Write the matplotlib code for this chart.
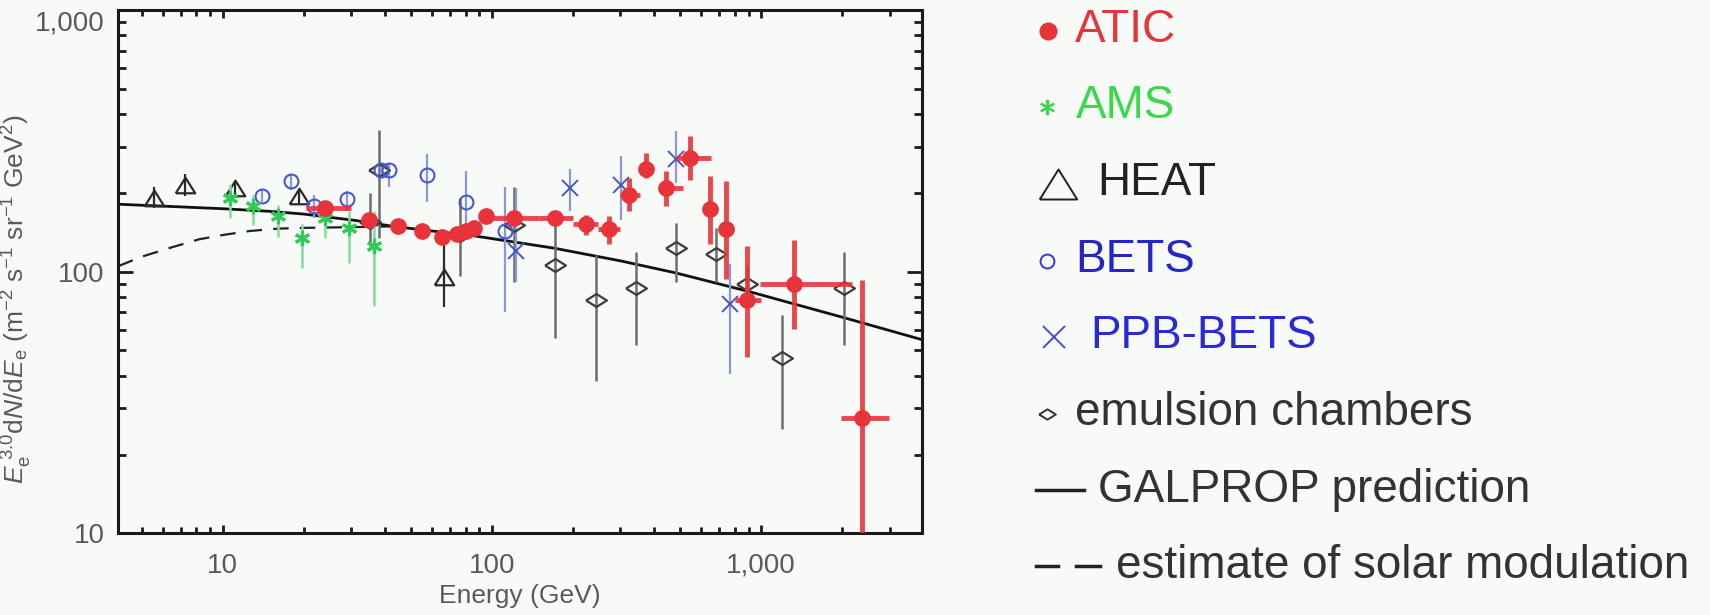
import numpy as np
import matplotlib
matplotlib.use("Agg")
import matplotlib.pyplot as plt
from matplotlib.lines import Line2D
from matplotlib.ticker import FixedLocator, FixedFormatter, LogLocator, NullFormatter

plt.rcParams['font.family'] = ['Liberation Sans', 'DejaVu Sans']
plt.rcParams['mathtext.fontset'] = 'custom'
plt.rcParams['mathtext.rm'] = 'Liberation Sans'
plt.rcParams['mathtext.it'] = 'Liberation Sans:italic'

# ---------------- data (energy in GeV, flux E^3 dN/dE) ----------------
atic_e = [24, 35, 44.7, 55, 65.5, 74, 80, 86, 95, 121, 171, 224, 273, 324, 373, 445, 544, 646, 743, 889, 1325, 2376]
atic_v = [175, 157, 149, 143, 136, 139.5, 143, 147, 163, 161, 160, 152, 146, 196, 246, 209, 273, 173, 146, 78, 90, 27.7]
atic_lo = [170, 152, 145, 139, 132, 135, 139, 143, 158, 156, 155, 138, 128, 170, 228, 178, 225, 127, 94, 47, 60.5, 5]
atic_hi = [180, 162, 153, 147, 140, 144, 147, 151, 168, 166, 165, 165, 163, 228, 285, 242, 330, 232, 222, 125, 132, 93]
atic_elo = [20.5, 35, 44.7, 55, 65.5, 74, 80, 86, 95, 95, 150, 200, 247, 300, 373, 430, 482, 646, 743, 800, 990, 1980]
atic_ehi = [30, 35, 44.7, 55, 65.5, 74, 80, 86, 95, 150, 200, 247, 300, 355, 373, 512, 650, 646, 743, 1000, 2170, 2980]

ams_e = [10.65, 13.0, 16.0, 19.8, 24.0, 29.6, 36.4]
ams_v = [191, 178, 163, 134, 160, 147, 125]
ams_lo = [160, 151, 136, 103, 134, 108, 74]
ams_hi = [216, 197, 180, 152, 180, 170, 170]

heat_e = [5.56, 7.27, 11.15, 19.2, 66.4]
heat_v = [191, 215, 208, 194, 95.7]
heat_lo = [175, 194, 192, 182, 73]
heat_hi = [211, 236, 222, 206, 126]

bets_e = [14.0, 17.9, 21.9, 29.1, 38.7, 41.4, 57.5, 80.5, 111.7]
bets_v = [195, 222, 178, 189, 244, 244, 235, 184, 142.6]
bets_lo = [185, 206, 160, 170, 232, 211, 185, 134, 70]
bets_hi = [205, 236, 197, 203, 256, 261, 281, 242, 211]

ppb_e = [123, 195, 302, 485, 767]
ppb_v = [120, 208, 215, 269, 75.5]
ppb_lo = [91.5, 171, 158, 219, 40.6]
ppb_hi = [209, 246, 276, 345, 107]

emul_e = [35.4, 38.0, 76, 121, 171, 244, 343, 485, 679, 889, 1200, 2032]
emul_v = [155, 244, 138, 151, 106, 77.8, 86.3, 123, 116.6, 89.4, 46.8, 86.3]
emul_lo = [125, 134, 96, 91.5, 56, 38.3, 52.3, 91.5, 91.5, 75, 25, 52.3]
emul_hi = [200, 348, 191, 211, 165, 116, 119, 153, 147, 105, 68, 119]

galprop_e = [4.1, 6, 10, 15, 20, 31, 43, 60, 86, 120, 170, 300, 480, 900, 2000, 3950]
galprop_v = [181, 178, 174, 170, 166, 157, 149, 143, 137, 130, 123, 110, 99, 84, 67, 55]

solar_e = [4.1, 5.0, 6.5, 8.2, 10, 12.6, 16, 20, 31, 43]
solar_v = [105, 114, 124, 133, 138, 143, 146, 147, 148, 149]

y_ticks = [10, 100, 1000]
y_ticklabels = ['10', '100', '1,000']
x_ticks = [10, 100, 1000]
x_ticklabels = ['10', '100', '1,000']

legend_labels = ['ATIC', 'AMS', 'HEAT', 'BETS', 'PPB-BETS', 'emulsion chambers',
                 'GALPROP prediction', 'estimate of solar modulation']

# ---------------- styling ----------------
BG = '#f7faf6'
RED = '#e8333a'
GREEN = '#2fcc58'
GREEN_L = '#86dca0'
DARK = '#2a2a2a'
BLUE = '#4858c8'
BLUE_L = '#8e98d8'
GRAY = '#3c3c3c'
GRAY_L = '#6e6e6e'
TXT = '#5a5a5a'

W, H = 1710, 615
fig = plt.figure(figsize=(W / 100, H / 100), dpi=100, facecolor=BG)
ax = fig.add_axes([118.3 / W, 1 - 533.3 / H, (921.7 - 118.3) / W, (533.3 - 10) / H])
ax.set_facecolor(BG)
ax.set_xscale('log')
ax.set_yscale('log')
ax.set_xlim(4.1, 3950)
ax.set_ylim(10, 1000)


def yerr(v, lo, hi):
    v, lo, hi = map(np.asarray, (v, lo, hi))
    return np.vstack([v - lo, hi - v])


diamond = [(-1, 0), (0, 0.62), (1, 0), (0, -0.62), (-1, 0)]
tri = [(-1, -0.8), (0, 0.8), (1, -0.8), (-1, -0.8)]

# model curves
ax.plot(galprop_e, galprop_v, color='#111111', lw=2.0, zorder=2)
ax.plot(solar_e, solar_v, color='#222222', lw=1.6, dashes=(7, 5), zorder=2)

# emulsion chambers
ax.errorbar(emul_e, emul_v, yerr=yerr(emul_v, emul_lo, emul_hi), fmt='none',
            ecolor=GRAY_L, elinewidth=1.8, zorder=3)
ax.plot(emul_e, emul_v, ls='none', marker=diamond, ms=15, mfc='none', mec=GRAY, mew=1.6, zorder=4)

# HEAT
ax.errorbar(heat_e, heat_v, yerr=yerr(heat_v, heat_lo, heat_hi), fmt='none',
            ecolor=DARK, elinewidth=1.6, zorder=3)
ax.plot(heat_e, heat_v, ls='none', marker=tri, ms=14, mfc='none', mec=DARK, mew=1.6, zorder=4)

# BETS
ax.errorbar(bets_e, bets_v, yerr=yerr(bets_v, bets_lo, bets_hi), fmt='none',
            ecolor=BLUE_L, elinewidth=1.6, zorder=3)
ax.plot(bets_e, bets_v, ls='none', marker='o', ms=10, mfc='none', mec=BLUE, mew=1.5, zorder=4)

# PPB-BETS
ax.errorbar(ppb_e, ppb_v, yerr=yerr(ppb_v, ppb_lo, ppb_hi), fmt='none',
            ecolor=BLUE_L, elinewidth=1.6, zorder=3)
ax.plot(ppb_e, ppb_v, ls='none', marker='x', ms=11, mec=BLUE, mew=1.4, zorder=4)

# AMS
ax.errorbar(ams_e, ams_v, yerr=yerr(ams_v, ams_lo, ams_hi), fmt='none',
            ecolor=GREEN_L, elinewidth=1.8, zorder=5)
ax.plot(ams_e, ams_v, ls='none', marker=(6, 2, 0), ms=11, mec=GREEN, mew=2.2, zorder=6)

# ATIC
atic_xerr = np.vstack([np.asarray(atic_e) - np.asarray(atic_elo), np.asarray(atic_ehi) - np.asarray(atic_e)])
ax.errorbar(atic_e, atic_v, yerr=yerr(atic_v, atic_lo, atic_hi), xerr=atic_xerr, fmt='none',
            ecolor=RED, elinewidth=3.5, alpha=0.9, zorder=7)
ax.plot(atic_e, atic_v, ls='none', marker='o', ms=11, mfc=RED, mec=RED, zorder=8)

# axes frame and ticks
for sp in ax.spines.values():
    sp.set_linewidth(2.2)
    sp.set_color('#1a1a1a')
ax.tick_params(which='both', direction='in', top=True, right=True, color='#1a1a1a', width=2)
ax.tick_params(axis='y', which='major', length=11, pad=10)
ax.tick_params(axis='y', which='minor', length=6)
ax.tick_params(axis='x', which='major', length=6, pad=14)
ax.tick_params(axis='x', which='minor', length=4)
ax.yaxis.set_major_locator(FixedLocator(y_ticks))
ax.yaxis.set_major_formatter(FixedFormatter(y_ticklabels))
ax.xaxis.set_major_locator(FixedLocator(x_ticks))
ax.xaxis.set_major_formatter(FixedFormatter(x_ticklabels))
ax.xaxis.set_minor_locator(LogLocator(base=10, subs=np.arange(2, 10)))
ax.yaxis.set_minor_locator(LogLocator(base=10, subs=np.arange(2, 10)))
ax.xaxis.set_minor_formatter(NullFormatter())
ax.yaxis.set_minor_formatter(NullFormatter())
for lab in ax.get_xticklabels() + ax.get_yticklabels():
    lab.set_fontsize(20)
    lab.set_color(TXT)
ax.get_yticklabels()[-1].set_va('top')

ax.set_xlabel('Energy (GeV)', fontsize=19, color=TXT, labelpad=4)
ax.set_ylabel(r'$E_{\mathrm{e}}^{\ 3.0}\mathrm{d}N/\mathrm{d}E_{\mathrm{e}}$ (m$^{-2}$ s$^{-1}$ sr$^{-1}$ GeV$^{2}$)',
              fontsize=19, color=TXT)
ax.yaxis.set_label_coords(-0.105, 0.448)

# ---------------- key on the right ----------------
def fx(px):
    return px / W


def fy(py):
    return 1 - py / H


rows = [26.5 + 76.7 * i for i in range(8)]
text_x = [1075, 1076, 1097, 1075, 1090, 1075, 1098, 1116]
text_c = [RED, '#3ad94c', '#222222', '#2626c8', '#2a2ad8', '#333333', '#333333', '#333333']
for lbl, tx, c, yy in zip(legend_labels, text_x, text_c, rows):
    fig.text(fx(tx), fy(yy + 15), lbl, fontsize=33, color=c, va='baseline', ha='left')

sym = [
    dict(x=1048, marker='o', ms=12, mfc=RED, mec=RED, mew=1),
    dict(x=1047, marker=(6, 2, 0), ms=11, mfc='none', mec='#3ad94c', mew=1.5),
    dict(x=1058, marker=tri, ms=27, mfc='none', mec='#222222', mew=1.4),
    dict(x=1047, marker='o', ms=10, mfc='none', mec='#3a3ad0', mew=1.4),
    dict(x=1054, marker='x', ms=16, mfc='none', mec='#4a4ad8', mew=1.4),
    dict(x=1047, marker=diamond, ms=12, mfc='none', mec='#333333', mew=1.4),
]
for s, yy in zip(sym, rows):
    xpos = s.pop('x')
    fig.add_artist(Line2D([fx(xpos)], [fy(yy + 4)], transform=fig.transFigure, ls='none', **s))

fig.add_artist(Line2D([fx(1036), fx(1084)], [fy(rows[6] + 3)] * 2, transform=fig.transFigure,
                      color='#222222', lw=2.5))
fig.add_artist(Line2D([fx(1036), fx(1058)], [fy(rows[7] + 3)] * 2, transform=fig.transFigure,
                      color='#222222', lw=2.5))
fig.add_artist(Line2D([fx(1076), fx(1100)], [fy(rows[7] + 3)] * 2, transform=fig.transFigure,
                      color='#222222', lw=2.5))

fig.savefig('out.png', dpi=100, facecolor=BG)
